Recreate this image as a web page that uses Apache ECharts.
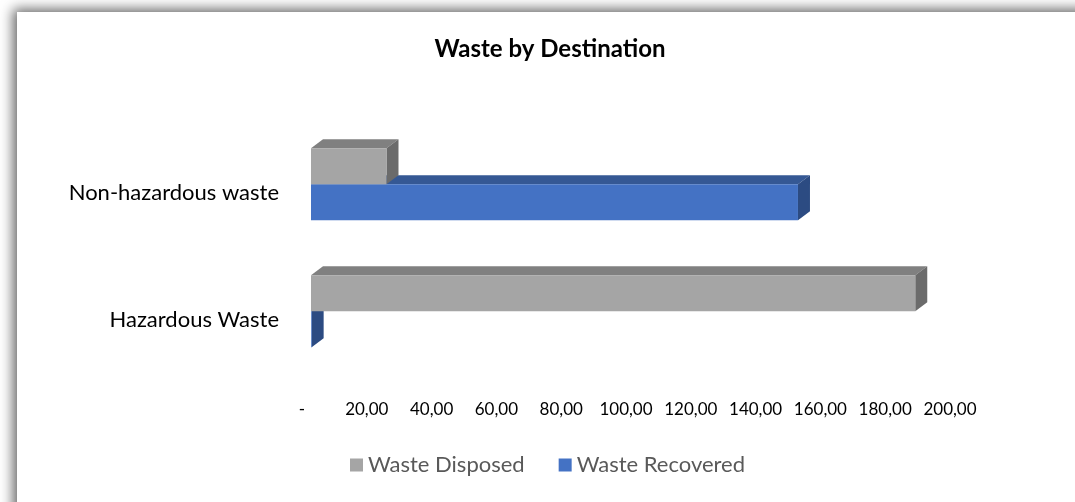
<!DOCTYPE html>
<html>
<head>
<meta charset="utf-8">
<script src="https://cdn.jsdelivr.net/npm/echarts@6/dist/echarts.min.js"></script>
<style>
  html, body { margin: 0; padding: 0; background: #fff; }
  #chart { width: 1075px; height: 502px; }
</style>
</head>
<body>
<div id="chart"></div>
<script>
  // values
  var categories = ['Hazardous Waste', 'Non-hazardous waste'];
  var wasteDisposed = [186.5, 23.3];
  var wasteRecovered = [0.2, 150.3];
  var tickValues = [0, 20, 40, 60, 80, 100, 120, 140, 160, 180, 200];

  // face colours for the fake 3d look
  var faces = {
    disposed: { front: '#A5A5A5', top: '#808080', side: '#6B6B6B' },
    recovered: { front: '#4472C4', top: '#355894', side: '#2C4B82' }
  };

  var font = 'Lato, "Noto Sans", sans-serif';

  function makeRender(pal, upper) {
    return function (params, api) {
      var cat = api.value(1);
      var start = api.coord([0, cat]);
      var end = api.coord([api.value(0), cat]);
      var band = api.size([0, 1])[1];
      var h = band * 0.284;
      var x0 = start[0] + 9, x1 = end[0] + 9;
      var yc = start[1] - 8.7;
      var y0 = upper ? yc - h : yc;
      var y1 = y0 + h;
      var dx = 12, dy = 9;
      return {
        type: 'group',
        children: [
          { type: 'polygon', shape: { points: [[x0, y0], [x1, y0], [x1 + dx, y0 - dy], [x0 + dx, y0 - dy]] },
            style: { fill: pal.top } },
          { type: 'polygon', shape: { points: [[x1, y0], [x1, y1], [x1 + dx, y1 - dy], [x1 + dx, y0 - dy]] },
            style: { fill: pal.side } },
          { type: 'rect', shape: { x: x0, y: y0, width: Math.max(x1 - x0, 0), height: h },
            style: { fill: pal.front } }
        ]
      };
    };
  }

  function pairs(arr) {
    var out = [];
    for (var i = 0; i < arr.length; i++) out.push([arr[i], i]);
    return out;
  }

  var chart = echarts.init(document.getElementById('chart'));
  var option = {
    animation: false,
    graphic: [{
      type: 'rect', left: 17, top: 12, z: -10,
      shape: { width: 1120, height: 540 },
      style: { fill: '#fff', shadowBlur: 12, shadowColor: 'rgba(0,0,0,0.6)', shadowOffsetX: -4, shadowOffsetY: -3 }
    }],
    title: {
      text: 'Waste by Destination',
      left: 545, top: 32, textAlign: 'center',
      textStyle: { fontFamily: font, fontWeight: 'bold', fontSize: 24, color: '#000' }
    },
    legend: {
      data: ['Waste Disposed', 'Waste Recovered'],
      left: 345, top: 449,
      itemWidth: 13, itemHeight: 13, itemGap: 34,
      icon: 'rect',
      textStyle: { fontFamily: font, fontSize: 22, color: '#595959' }
    },
    grid: { left: 302, right: 125, top: 129.5, bottom: 118.5 },
    xAxis: {
      type: 'value', min: 0, max: 200, interval: 20,
      axisLine: { show: false }, axisTick: { show: false }, splitLine: { show: false },
      axisLabel: {
        margin: 18, color: '#000', fontFamily: font, fontSize: 17,
        customValues: tickValues,
        formatter: function (v) { return v === 0 ? '-' : v.toFixed(2).replace('.', ','); }
      }
    },
    yAxis: {
      type: 'category', data: categories,
      axisLine: { show: false }, axisTick: { show: false },
      axisLabel: { margin: 23, color: '#000', fontFamily: font, fontSize: 22 }
    },
    series: [
      {
        name: 'Waste Disposed', type: 'custom', z: 3,
        itemStyle: { color: faces.disposed.front },
        encode: { x: 0, y: 1 },
        renderItem: makeRender(faces.disposed, true),
        data: pairs(wasteDisposed)
      },
      {
        name: 'Waste Recovered', type: 'custom', z: 2,
        itemStyle: { color: faces.recovered.front },
        encode: { x: 0, y: 1 },
        renderItem: makeRender(faces.recovered, false),
        data: pairs(wasteRecovered)
      }
    ]
  };
  chart.setOption(option);
</script>
</body>
</html>
